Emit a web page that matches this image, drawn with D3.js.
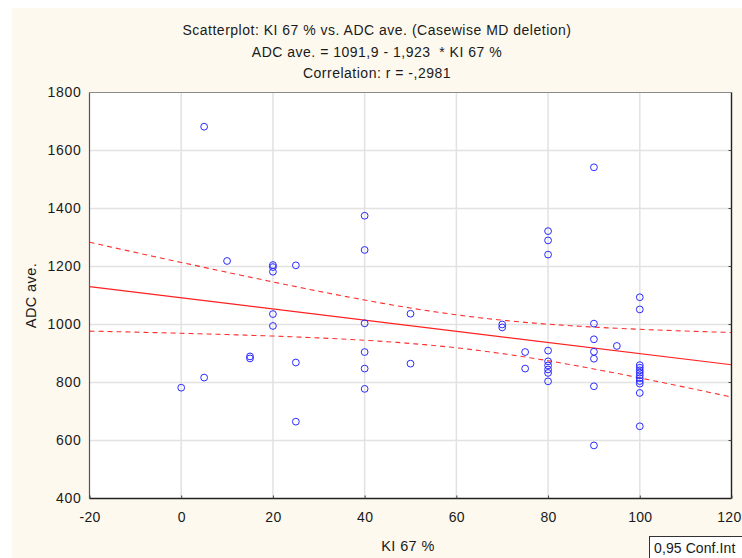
<!DOCTYPE html>
<html>
<head>
<meta charset="utf-8">
<script src="https://cdn.jsdelivr.net/npm/d3@7"></script>
<style>
  html, body { margin: 0; padding: 0; background: #ffffff; }
  svg { display: block; }
  text { font-family: "Liberation Sans", Arial, sans-serif; fill: #1a1a1a; }
</style>
</head>
<body>
<svg id="chart" width="742" height="558"></svg>
<script>
// KI 67 % (x) and ADC ave. (y) for each case
const ki67 = [
  0, 5, 5, 10, 15, 15,
  20, 20, 20, 20, 20,
  25, 25, 25,
  40, 40, 40, 40, 40, 40,
  50, 50, 70, 70, 75, 75,
  80, 80, 80, 80, 80, 80, 80, 80, 80,
  90, 90, 90, 90, 90, 90, 90,
  95,
  100, 100, 100, 100, 100, 100, 100, 100, 100, 100, 100, 100
];
const adcAve = [
  782, 1682, 817, 1219, 890, 883,
  1205, 1198, 1182, 1036, 995,
  1204, 869, 665,
  1375, 1257, 1004, 905, 848, 778,
  1037, 865, 1000, 990, 905, 848,
  1322, 1290, 1241, 910, 873, 859, 845, 833, 804,
  1542, 1003, 949, 906, 882, 787, 583,
  926,
  1094, 1052, 860, 851, 842, 834, 825, 815, 805, 796, 764, 649
];

// Fitted line as reported: ADC ave. = 1091,9 - 1,923 * KI 67 %
const intercept = 1091.9;
const slope = -1.923;
const confLabel = "0,95 Conf.Int";

const titleLines = [
  "Scatterplot: KI 67 % vs. ADC ave. (Casewise MD deletion)",
  "ADC ave. = 1091,9 - 1,923  * KI 67 %",
  "Correlation: r = -,2981"
];
const xTicks = [-20, 0, 20, 40, 60, 80, 100, 120];
const yTicks = [400, 600, 800, 1000, 1200, 1400, 1600, 1800];

const svg = d3.select("#chart");
const W = 742, H = 558;
const m = { left: 89.5, right: 731.5, top: 92.5, bottom: 498.5 };

// cream panel behind everything
svg.append("rect").attr("x", 12).attr("y", 8).attr("width", W - 12).attr("height", H - 8)
  .attr("fill", "#fdf9ef");

const x = d3.scaleLinear().domain([-20, 120]).range([m.left, m.right]);
const y = d3.scaleLinear().domain([400, 1800]).range([m.bottom, m.top]);

svg.append("rect").attr("x", m.left).attr("y", m.top)
  .attr("width", m.right - m.left).attr("height", m.bottom - m.top)
  .attr("fill", "#ffffff");

// grid
const grid = svg.append("g");
grid.selectAll("line.h").data(yTicks.slice(1, -1)).join("line")
  .attr("x1", m.left).attr("x2", m.right)
  .attr("y1", d => y(d)).attr("y2", d => y(d))
  .attr("stroke", "#e2e2e2").attr("stroke-width", 1.5);
grid.selectAll("line.v").data(xTicks.slice(1, -1)).join("line")
  .attr("y1", m.top).attr("y2", m.bottom)
  .attr("x1", d => x(d)).attr("x2", d => x(d))
  .attr("stroke", "#e2e2e2").attr("stroke-width", 1.5);

// 95% confidence band for the mean response
const n = ki67.length;
const xMean = d3.mean(ki67);
const sxx = d3.sum(ki67, v => (v - xMean) ** 2);
const sse = d3.sum(ki67, (v, i) => (adcAve[i] - (intercept + slope * v)) ** 2);
const s = Math.sqrt(sse / (n - 2));
const tCrit = 2.005; // two-sided t quantile, df = n - 2
const xs = d3.range(-20, 120.01, 1);
const band = xs.map(v => {
  const fit = intercept + slope * v;
  const half = tCrit * s * Math.sqrt(1 / n + (v - xMean) ** 2 / sxx);
  return { v, lo: fit - half, hi: fit + half };
});

const plot = svg.append("g");
const lineFit = d3.line().x(d => x(d)).y(d => y(intercept + slope * d));
plot.append("path").datum([-20, 120]).attr("d", lineFit)
  .attr("fill", "none").attr("stroke", "#ff2020").attr("stroke-width", 1.2);
["lo", "hi"].forEach(k => {
  plot.append("path").datum(band)
    .attr("d", d3.line().x(d => x(d.v)).y(d => y(d[k])))
    .attr("fill", "none").attr("stroke", "#ff3030").attr("stroke-width", 1.1)
    .attr("stroke-dasharray", "5,4");
});

// points
plot.selectAll("circle").data(ki67).join("circle")
  .attr("cx", d => x(d)).attr("cy", (d, i) => y(adcAve[i]))
  .attr("r", 3.4).attr("fill", "none").attr("stroke", "#2a2aff").attr("stroke-width", 1);

// frame
svg.append("line").attr("x1", m.left).attr("x2", m.right).attr("y1", m.top).attr("y2", m.top)
  .attr("stroke", "#8a8a8a").attr("stroke-width", 1.2);
svg.append("line").attr("x1", m.left).attr("x2", m.left).attr("y1", m.top).attr("y2", m.bottom)
  .attr("stroke", "#555").attr("stroke-width", 1.2);
svg.append("line").attr("x1", m.right).attr("x2", m.right).attr("y1", m.top).attr("y2", m.bottom)
  .attr("stroke", "#222").attr("stroke-width", 1.4);
svg.append("line").attr("x1", m.left).attr("x2", m.right).attr("y1", m.bottom).attr("y2", m.bottom)
  .attr("stroke", "#222").attr("stroke-width", 1.4);

// axes (plain hyphen for negatives)
const fmt = d => String(d);
const xAxis = d3.axisBottom(x).tickValues(xTicks).tickSize(-3).tickPadding(11).tickFormat(fmt);
const yAxis = d3.axisLeft(y).tickValues(yTicks).tickSize(0).tickPadding(8).tickFormat(fmt);
const gx = svg.append("g").attr("transform", `translate(0,${m.bottom})`).call(xAxis);
const gy = svg.append("g").attr("transform", `translate(${m.left},0)`).call(yAxis);
[gx, gy].forEach(g => {
  g.select(".domain").remove();
  g.selectAll("text").attr("font-size", 14)
    .attr("font-family", "Liberation Sans, Arial, sans-serif").attr("fill", "#1a1a1a");
  g.selectAll("line").attr("stroke", "#444");
});
gy.selectAll("text").attr("letter-spacing", 0.7);
gx.selectAll("text").attr("dy", "0.9em").attr("letter-spacing", 0.3);
// last x label sits against the window edge
gx.selectAll(".tick").filter(d => d === xTicks[xTicks.length - 1]).select("text")
  .attr("text-anchor", "end").attr("x", W - 1 - x(xTicks[xTicks.length - 1]));
// right-side inner ticks
svg.append("g").selectAll("line").data(yTicks.slice(1, -1)).join("line")
  .attr("x1", m.right - 3).attr("x2", m.right).attr("y1", d => y(d)).attr("y2", d => y(d))
  .attr("stroke", "#444");

// titles
svg.append("g").selectAll("text").data(titleLines).join("text")
  .attr("x", 377).attr("y", (d, i) => 35 + i * 21.5)
  .attr("text-anchor", "middle").attr("font-size", 14).attr("letter-spacing", 0.5)
  .attr("xml:space", "preserve")
  .text(d => d);

svg.append("text").attr("x", 408).attr("y", 551).attr("text-anchor", "middle")
  .attr("font-size", 14.5).attr("letter-spacing", 0.4).text("KI 67 %");
svg.append("text").attr("transform", `translate(36,${(m.top + m.bottom) / 2}) rotate(-90)`)
  .attr("text-anchor", "middle").attr("font-size", 14.5).attr("letter-spacing", 0.4).text("ADC ave.");

// legend box
svg.append("rect").attr("x", 649.5).attr("y", 536.5).attr("width", 100).attr("height", 30)
  .attr("fill", "#ffffff").attr("stroke", "#333").attr("stroke-width", 1);
svg.append("text").attr("x", 654).attr("y", 553).attr("font-size", 14).attr("letter-spacing", 0.1)
  .text(confLabel);
</script>
</body>
</html>
